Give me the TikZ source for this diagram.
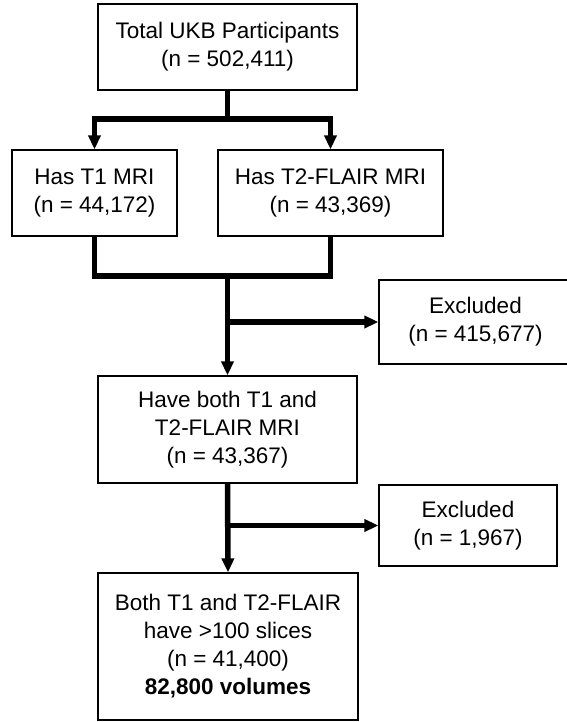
\documentclass[tikz,border=0pt]{standalone}
\usepackage{fontspec}
\setmainfont{Liberation Sans}
\usetikzlibrary{positioning,arrows.meta,calc}

\begin{document}
\begin{tikzpicture}[
    x=1pt, y=-1pt,
    stage/.style={rectangle, draw, line width=1.2pt, align=center, inner sep=2pt, font=\fontsize{22.5}{28}\selectfont},
    pipe/.style={line width=5.5pt},
    flow/.style={pipe, -{Triangle[length=14pt, width=12pt]}},
]
\useasboundingbox (0,0) rectangle (566,722);

\node[stage, minimum width=259pt, minimum height=86pt] (total) at (227.5,47) {Total UKB Participants\\(n = 502,411)};
\node[stage, minimum width=165pt, minimum height=86pt] (tone) at (94.5,193) {Has T1 MRI\\(n = 44,172)};
\node[stage, minimum width=225pt, minimum height=86pt] (ttwo) at (330.5,193) {Has T2-FLAIR MRI\\(n = 43,369)};
\node[stage, minimum width=211pt, minimum height=84pt] (excl1) at (484.5,322) {\hspace*{-18pt}Excluded\\\hspace*{-18pt}(n = 415,677)};
\node[stage, minimum width=259pt, minimum height=107pt] (both) at (227.5,429.5) {Have both T1 and\\T2-FLAIR MRI\\(n = 43,367)};
\node[stage, minimum width=178pt, minimum height=81pt] (excl2) at (468,525.5) {Excluded\\(n = 1,967)};
\node[stage, minimum width=260pt, minimum height=147pt] (final) at (228,646.5) {Both T1 and T2-FLAIR\\have >100 slices\\(n = 41,400)\\\textbf{82,800 volumes}};

\coordinate (fork) at (227.5,119);
\coordinate (merge) at (227.5,276);

\draw[pipe] (total.south) -- (fork);
\draw[flow] (fork) -| (tone.north);
\draw[flow] (fork) -| (ttwo.north);
\draw[pipe] (tone.south) |- (merge) -| (ttwo.south);
\draw[flow] (merge) -- (both.north);
\draw[flow] (merge |- excl1.west) -- (excl1.west);
\draw[flow] (both.south) -- (final.north);
\draw[flow] (both.south |- excl2.west) -- (excl2.west);

\end{tikzpicture}
\end{document}
